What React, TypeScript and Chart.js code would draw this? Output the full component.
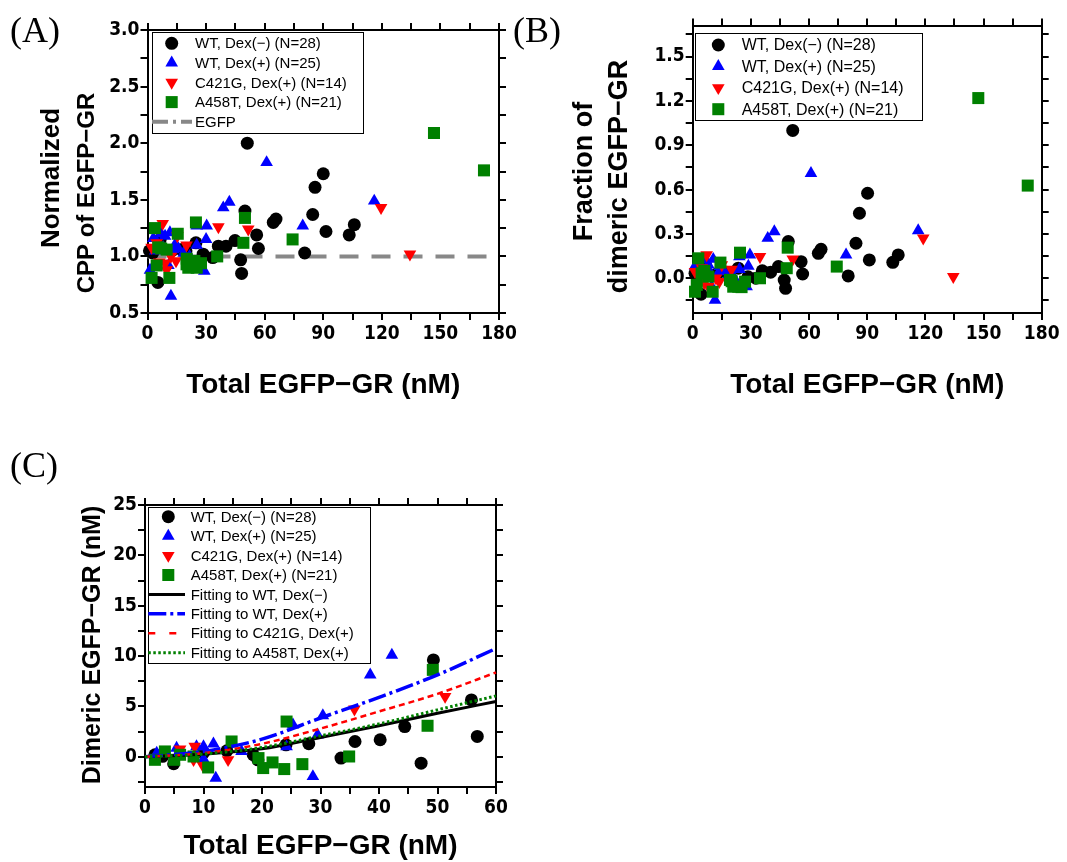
import React, { useEffect, useRef } from "react";
import { Chart, registerables } from "chart.js";

Chart.register(...registerables);

type Pt = [number, number];

// ---------------- Panel A : normalized CPP ----------------
const aWtDexMinus: Pt[] = [
  [51.1, 2.0], [90.0, 1.73], [85.8, 1.61], [84.6, 1.37], [49.9, 1.4], [65.8, 1.33], [64.4, 1.3],
  [105.9, 1.28], [103.3, 1.19], [91.4, 1.22], [55.9, 1.19], [56.8, 1.07], [80.5, 1.03], [47.7, 0.97],
  [48.2, 0.85], [44.8, 1.14], [40.2, 1.09], [36.3, 1.09], [33.4, 0.99], [24.8, 1.12], [19.7, 1.05],
  [5.3, 0.77], [2.7, 1.03], [1.0, 1.05], [6.5, 1.15], [12.5, 1.05], [17.5, 1.06], [28.5, 1.02],
];
const aWtDexPlus: Pt[] = [
  [61.0, 1.83], [116.1, 1.49], [41.9, 1.48], [38.8, 1.43], [79.5, 1.27], [30.3, 1.27], [30.0, 1.15],
  [25.2, 1.1], [25.2, 1.27], [29.1, 0.87], [12.0, 0.65], [15.8, 1.07], [13.2, 1.06], [9.0, 1.18],
  [11.5, 1.21], [3.0, 1.16], [10.7, 0.92], [1.3, 0.88], [5.0, 1.12], [7.0, 1.2], [18.5, 1.03],
  [21.5, 1.0], [4.0, 1.05], [14.0, 1.1], [8.0, 1.08],
];
const aC421G: Pt[] = [
  [119.6, 1.43], [134.4, 1.02], [51.6, 1.24], [36.3, 1.26], [7.8, 1.29], [15.3, 1.18], [14.6, 0.96],
  [9.0, 0.94], [2.1, 1.08], [9.8, 0.88], [4.7, 1.12], [12.0, 1.0], [6.0, 0.95], [20.0, 1.1],
];
const aA458T: Pt[] = [
  [146.7, 2.09], [172.3, 1.76], [74.3, 1.15], [49.9, 1.34], [49.1, 1.12], [24.8, 1.3], [15.5, 1.2],
  [35.7, 1.0], [20.1, 0.98], [20.9, 0.9], [25.2, 0.9], [27.4, 0.94], [3.8, 1.25], [5.5, 1.08],
  [9.8, 1.06], [4.7, 0.92], [2.1, 0.81], [11.2, 0.81], [20.0, 0.93], [24.0, 0.96], [7.0, 1.07],
];
const egfpLevel: Pt[] = [[0, 1.0], [180, 1.0]];

// ---------------- Panel B : fraction of dimeric ----------------
const bWtDexMinus: Pt[] = [
  [51.6, 1.0], [90.2, 0.575], [86.0, 0.44], [84.2, 0.237], [49.3, 0.248], [66.2, 0.196], [64.8, 0.169],
  [106.0, 0.158], [103.2, 0.108], [91.1, 0.124], [55.9, 0.112], [56.7, 0.029], [80.2, 0.016],
  [47.2, -0.012], [47.9, -0.068], [44.2, 0.079], [40.2, 0.041], [35.9, 0.051], [32.6, 0.0],
  [23.5, 0.068], [18.4, 0.022], [4.3, -0.108], [1.2, 0.034], [6.5, 0.1], [12.5, 0.03], [17.5, 0.04],
  [28.5, 0.01], [2.7, 0.02],
];
const bWtDexPlus: Pt[] = [
  [61.0, 0.71], [116.3, 0.322], [42.1, 0.316], [38.7, 0.271], [79.1, 0.158], [29.5, 0.158],
  [28.7, 0.083], [24.1, 0.061], [24.1, 0.146], [27.8, -0.057], [11.5, -0.147], [13.7, 0.045],
  [15.8, 0.056], [10.6, 0.129], [8.1, 0.09], [1.2, 0.083], [9.8, -0.057], [6.5, 0.124], [5.0, 0.07],
  [3.0, 0.1], [18.5, 0.02], [21.5, 0.0], [4.0, 0.05], [14.0, 0.08], [8.0, 0.06],
];
const bC421G: Pt[] = [
  [118.9, 0.271], [134.4, 0.011], [51.6, 0.129], [34.7, 0.146], [7.2, 0.158], [15.0, 0.09],
  [13.7, -0.023], [8.1, -0.057], [1.2, 0.045], [9.8, -0.08], [4.7, 0.07], [12.0, 0.0], [6.0, -0.03],
  [20.0, 0.06],
];
const bA458T: Pt[] = [
  [147.3, 1.219], [172.8, 0.627], [74.3, 0.079], [49.0, 0.207], [48.5, 0.068], [24.4, 0.173],
  [14.3, 0.106], [34.7, 0.0], [19.2, -0.011], [20.9, -0.057], [27.0, -0.023], [23.5, -0.057],
  [2.9, 0.135], [4.6, 0.034], [8.1, 0.011], [2.1, -0.045], [1.2, -0.091], [10.3, -0.091],
  [25.2, -0.06], [20.1, -0.02], [6.0, 0.05],
];

// ---------------- Panel C : dimeric concentration ----------------
const cWtDexMinus: Pt[] = [
  [49.3, 9.62], [55.8, 5.65], [56.8, 2.02], [47.2, -0.63], [44.4, 3.0], [40.2, 1.69], [35.9, 1.52],
  [33.5, -0.13], [24.1, 1.19], [18.5, 0.2], [19.3, -0.3], [4.9, -0.69], [1.7, 0.2], [10.0, 0.4],
  [14.0, 0.6], [28.0, 1.3], [3.0, 0.05],
];
const cWtDexPlus: Pt[] = [
  [42.2, 10.1], [38.5, 8.13], [30.4, 4.1], [25.3, 3.17], [29.5, 2.18], [28.7, -1.95], [12.1, -2.11],
  [11.7, 1.29], [10.0, 1.02], [8.8, 1.02], [10.0, -0.23], [2.0, 0.37], [16.5, 0.53], [24.2, 1.0],
  [5.4, 0.86],
];
const cC421G: Pt[] = [
  [51.3, 5.98], [35.8, 4.73], [14.2, -0.3], [9.9, -0.89], [8.5, 1.02], [8.3, -0.3], [6.0, 0.76],
];
const cA458T: Pt[] = [
  [49.2, 8.63], [48.3, 3.08], [24.2, 3.5], [34.9, 0.03], [14.8, 1.52], [10.8, -1.06], [19.4, -0.13],
  [20.2, -1.12], [21.8, -0.56], [23.8, -1.22], [26.9, -0.73], [6.0, 0.2], [3.4, 0.53], [1.7, -0.3],
  [8.3, 0.03], [5.0, -0.3],
];
const fitX = [0, 10, 20, 30, 40, 50, 60];
const fitWtDexMinus = [0, 0.27, 0.79, 1.92, 3.08, 4.33, 5.49];
const fitWtDexPlus = [0, 0.53, 1.75, 3.85, 5.9, 8.13, 10.75];
const fitC421G = [0, 0.36, 1.29, 2.8, 4.5, 6.25, 8.37];
const fitA458T = [0, 0.27, 0.93, 2.08, 3.27, 4.66, 6.05];

// ---------------- labels ----------------
const labelWtMinus = "WT, Dex(\u2212) (N=28)";
const labelWtPlus = "WT, Dex(+) (N=25)";
const labelC421G = "C421G, Dex(+) (N=14)";
const labelA458T = "A458T, Dex(+) (N=21)";
const xTitleText = "Total EGFP\u2212GR (nM)";

const SANS = "'Liberation Sans', Arial, Helvetica, sans-serif";
const COND = "'DejaVu Sans Condensed', 'Liberation Sans', Arial, sans-serif";
const TICK_FONT = { family: COND, size: 19, weight: "bold" as const };
const TITLE_FONT = { family: SANS, size: 28, weight: "bold" as const, lineHeight: 1 };

const BLACK = "#000000";
const BLUE = "#0000ff";
const RED = "#ff0000";
const GREEN = "#008000";

const toXY = (arr: Pt[]) => arr.map(([x, y]) => ({ x, y }));
const zip = (xs: number[], ys: number[]) => xs.map((x, i) => ({ x, y: ys[i] }));

function markers(label: string, data: Pt[], kind: string, color: string, order: number) {
  const base: any = {
    type: "scatter",
    label,
    data: toXY(data),
    pointBackgroundColor: color,
    pointBorderColor: color,
    pointBorderWidth: 0,
    backgroundColor: color,
    borderColor: color,
    showLine: false,
    order,
    clip: false,
    kind,
  };
  if (kind === "circle") return { ...base, pointStyle: "circle", pointRadius: 6.5, pointRotation: 0 };
  if (kind === "up") return { ...base, pointStyle: "triangle", pointRadius: 7.3, pointRotation: 0 };
  if (kind === "down") return { ...base, pointStyle: "triangle", pointRadius: 7.3, pointRotation: 180 };
  return { ...base, pointStyle: "rect", pointRadius: 8.5, pointRotation: 0 };
}

function curve(label: string, data: { x: number; y: number }[], color: string, width: number, dash: number[], order: number, legendDash?: number[]) {
  return {
    type: "line",
    label,
    data,
    borderColor: color,
    backgroundColor: color,
    borderWidth: width,
    borderDash: dash,
    pointRadius: 0,
    fill: false,
    showLine: true,
    cubicInterpolationMode: "monotone",
    order,
    clip: false,
    kind: "line",
    legendDash: legendDash || dash,
  };
}

type LegendCfg = {
  x: number; y: number; w: number; h: number; rowY: number; rowH: number;
  symX: number; textX: number; lineX0: number; lineX1: number; font: string;
};

function drawMarker(ctx: CanvasRenderingContext2D, kind: string, cx: number, cy: number, r: number, color: string) {
  ctx.fillStyle = color;
  ctx.beginPath();
  if (kind === "circle") {
    ctx.arc(cx, cy, r, 0, Math.PI * 2);
  } else if (kind === "up" || kind === "down") {
    const s = kind === "up" ? 1 : -1;
    for (let k = 0; k < 3; k++) {
      const a = (k * 2 * Math.PI) / 3;
      const px = cx + Math.sin(a) * r;
      const py = cy - s * Math.cos(a) * r;
      if (k === 0) ctx.moveTo(px, py);
      else ctx.lineTo(px, py);
    }
    ctx.closePath();
  } else {
    const h = r * Math.SQRT1_2;
    ctx.rect(cx - h, cy - h, 2 * h, 2 * h);
  }
  ctx.fill();
}

function legendPlugin(cfg: LegendCfg) {
  return {
    id: "boxLegend",
    afterDraw(chart: any) {
      const ctx: CanvasRenderingContext2D = chart.ctx;
      ctx.save();
      ctx.fillStyle = "#ffffff";
      ctx.fillRect(cfg.x, cfg.y, cfg.w, cfg.h);
      ctx.strokeStyle = "#000000";
      ctx.lineWidth = 1;
      ctx.strokeRect(Math.round(cfg.x) + 0.5, Math.round(cfg.y) + 0.5, Math.round(cfg.w), Math.round(cfg.h));
      const list = chart.data.datasets.filter((d: any) => d.inLegend);
      list.forEach((ds: any, i: number) => {
        const cy = cfg.rowY + i * cfg.rowH;
        if (ds.kind === "line") {
          ctx.save();
          ctx.strokeStyle = ds.borderColor;
          ctx.lineWidth = ds.borderWidth;
          ctx.setLineDash(ds.legendDash || []);
          ctx.beginPath();
          ctx.moveTo(cfg.lineX0, cy);
          ctx.lineTo(cfg.lineX1, cy);
          ctx.stroke();
          ctx.restore();
        } else {
          drawMarker(ctx, ds.kind, cfg.symX, cy, ds.pointRadius, ds.pointBackgroundColor);
        }
        ctx.fillStyle = "#000000";
        ctx.font = cfg.font;
        ctx.textAlign = "left";
        ctx.textBaseline = "middle";
        ctx.fillText(ds.label, cfg.textX, cy + 1);
      });
      ctx.restore();
    },
  };
}

type TextItem = { text: string; x: number; y: number; size: number };

function textPlugin(items: TextItem[]) {
  return {
    id: "sideTitles",
    afterDraw(chart: any) {
      const ctx: CanvasRenderingContext2D = chart.ctx;
      items.forEach((t) => {
        ctx.save();
        ctx.translate(t.x, t.y);
        ctx.rotate(-Math.PI / 2);
        ctx.font = `bold ${t.size}px ${SANS}`;
        ctx.fillStyle = "#000000";
        ctx.textAlign = "center";
        ctx.textBaseline = "middle";
        ctx.fillText(t.text, 0, 0);
        ctx.restore();
      });
    },
  };
}

type AxisSpec = { min: number; max: number; step: number; labelStep: number; decimals: number };

type PanelSpec = {
  width: number;
  height: number;
  leftW: number;
  rightW: number;
  topH: number;
  bottomH: number;
  x: AxisSpec;
  y: AxisSpec;
  xTitlePad: number;
  datasets: any[];
  legend: LegendCfg;
  texts: TextItem[];
};

const isMultiple = (v: number, s: number) => Math.abs(v / s - Math.round(v / s)) < 1e-6;
const fmt = (v: number, d: number) => (Math.abs(v) < 1e-9 ? (0).toFixed(d) : v.toFixed(d));

function frameAxis(a: AxisSpec) {
  return {
    type: "linear",
    min: a.min,
    max: a.max,
    grid: { display: true, drawOnChartArea: false, drawTicks: true, tickLength: 7, color: "#000", lineWidth: 2 },
    border: { display: true, color: "#000", width: 2 },
  };
}

function makeConfig(spec: PanelSpec): any {
  const labelTicks = (a: AxisSpec, padding: number) => ({
    stepSize: a.step,
    autoSkip: false,
    includeBounds: false,
    maxRotation: 0,
    minRotation: 0,
    padding,
    color: "#000",
    font: TICK_FONT,
    callback: (v: any) => (isMultiple(Number(v), a.labelStep) ? fmt(Number(v), a.decimals) : ""),
  });
  return {
    type: "scatter",
    data: { datasets: spec.datasets },
    plugins: [legendPlugin(spec.legend), textPlugin(spec.texts)],
    options: {
      responsive: false,
      maintainAspectRatio: false,
      animation: false,
      devicePixelRatio: 1,
      events: [],
      layout: { padding: 0 },
      plugins: { legend: { display: false }, tooltip: { enabled: false }, title: { display: false } },
      scales: {
        x: {
          ...frameAxis(spec.x),
          position: "bottom",
          ticks: labelTicks(spec.x, 3),
          title: {
            display: true,
            text: xTitleText,
            color: "#000",
            font: TITLE_FONT,
            padding: { top: 0, bottom: spec.xTitlePad },
          },
          afterFit: (s: any) => {
            s.height = spec.bottomH;
          },
        },
        x2: {
          ...frameAxis(spec.x),
          position: "top",
          ticks: { stepSize: spec.x.step, includeBounds: false, display: false },
          afterFit: (s: any) => {
            s.height = spec.topH;
          },
        },
        y: {
          ...frameAxis(spec.y),
          position: "left",
          ticks: labelTicks(spec.y, 1),
          afterFit: (s: any) => {
            s.width = spec.leftW;
          },
        },
        y2: {
          ...frameAxis(spec.y),
          position: "right",
          ticks: { stepSize: spec.y.step, includeBounds: false, display: false },
          afterFit: (s: any) => {
            s.width = spec.rightW;
          },
        },
      },
    },
  };
}

const legendSets = (sets: any[]) => sets.map((d) => ({ ...d, inLegend: true }));

const panelA: PanelSpec = {
  width: 520,
  height: 400,
  leftW: 147.5,
  rightW: 21,
  topH: 30,
  bottomH: 87,
  x: { min: 0, max: 180, step: 15, labelStep: 30, decimals: 0 },
  y: { min: 0.5, max: 3.0, step: 0.25, labelStep: 0.5, decimals: 1 },
  xTitlePad: 1,
  datasets: legendSets([
    markers(labelWtMinus, aWtDexMinus, "circle", BLACK, 4),
    markers(labelWtPlus, aWtDexPlus, "up", BLUE, 3),
    markers(labelC421G, aC421G, "down", RED, 2),
    markers(labelA458T, aA458T, "square", GREEN, 1),
    curve("EGFP", toXY(egfpLevel), "#888888", 4, [19, 13], 5, [16, 5, 3, 5]),
  ]),
  legend: { x: 151.7, y: 31.7, w: 211, h: 101, rowY: 43.3, rowH: 19.6, symX: 171.7, textX: 195, lineX0: 152, lineX1: 192, font: `15px ${SANS}` },
  texts: [
    { text: "Normalized", x: 51.5, y: 178, size: 26 },
    { text: "CPP of EGFP\u2212GR", x: 87.5, y: 193, size: 24 },
  ],
};

const panelB: PanelSpec = {
  width: 537,
  height: 400,
  leftW: 162.7,
  rightW: 25.3,
  topH: 25.5,
  bottomH: 87,
  x: { min: 0, max: 180, step: 15, labelStep: 30, decimals: 0 },
  y: { min: -0.235, max: 1.71, step: 0.15, labelStep: 0.3, decimals: 1 },
  xTitlePad: 1,
  datasets: legendSets([
    markers(labelWtMinus, bWtDexMinus, "circle", BLACK, 4),
    markers(labelWtPlus, bWtDexPlus, "up", BLUE, 3),
    markers(labelC421G, bC421G, "down", RED, 2),
    markers(labelA458T, bA458T, "square", GREEN, 1),
  ]),
  legend: { x: 165, y: 32.7, w: 226.7, h: 86.6, rowY: 45, rowH: 21.4, symX: 188.3, textX: 211.7, lineX0: 165, lineX1: 200, font: `16px ${SANS}` },
  texts: [
    { text: "Fraction of", x: 54.5, y: 171.5, size: 27 },
    { text: "dimeric EGFP\u2212GR", x: 89.5, y: 176.5, size: 27 },
  ],
};

const panelC: PanelSpec = {
  width: 520,
  height: 432,
  leftW: 145,
  rightW: 24,
  topH: 75,
  bottomH: 75,
  x: { min: 0, max: 60, step: 5, labelStep: 10, decimals: 0 },
  y: { min: -3, max: 25, step: 2.5, labelStep: 5, decimals: 0 },
  xTitlePad: 2,
  datasets: legendSets([
    markers(labelWtMinus, cWtDexMinus, "circle", BLACK, 4),
    markers(labelWtPlus, cWtDexPlus, "up", BLUE, 3),
    markers(labelC421G, cC421G, "down", RED, 2),
    markers(labelA458T, cA458T, "square", GREEN, 1),
    curve("Fitting to WT, Dex(\u2212)", zip(fitX, fitWtDexMinus), BLACK, 3, [], 0),
    curve("Fitting to WT, Dex(+)", zip(fitX, fitWtDexPlus), BLUE, 3.5, [18, 4, 3, 4], -1),
    curve("Fitting to C421G, Dex(+)", zip(fitX, fitC421G), RED, 2.5, [6, 4], -2, [7, 14]),
    curve("Fitting to A458T, Dex(+)", zip(fitX, fitA458T), GREEN, 3, [2.5, 2.5], -3),
  ]),
  legend: { x: 148.3, y: 76.7, w: 221.7, h: 156, rowY: 86.7, rowH: 19.43, symX: 168.3, textX: 190.7, lineX0: 148.3, lineX1: 185, font: `15px ${SANS}` },
  texts: [{ text: "Dimeric EGFP\u2212GR (nM)", x: 93, y: 215, size: 25 }],
};

function Panel({ spec, left, top }: { spec: PanelSpec; left: number; top: number }) {
  const ref = useRef<HTMLCanvasElement | null>(null);
  useEffect(() => {
    if (!ref.current) return;
    const chart = new Chart(ref.current, makeConfig(spec));
    return () => chart.destroy();
  }, [spec]);
  return (
    <canvas
      ref={ref}
      width={spec.width}
      height={spec.height}
      style={{ position: "absolute", left, top, width: spec.width, height: spec.height }}
    />
  );
}

const letterStyle: React.CSSProperties = {
  position: "absolute",
  fontFamily: "'Liberation Serif', 'Times New Roman', serif",
  fontSize: 36,
  lineHeight: "36px",
  color: "#000",
  whiteSpace: "nowrap",
};

export default function App() {
  return (
    <div style={{ position: "absolute", left: 0, top: 0, width: 1067, height: 862, background: "#fff", overflow: "hidden" }}>
      <Panel spec={panelA} left={0} top={0} />
      <Panel spec={panelB} left={530} top={0} />
      <Panel spec={panelC} left={0} top={430} />
      <div style={{ ...letterStyle, left: 10, top: 12 }}>(A)</div>
      <div style={{ ...letterStyle, left: 513, top: 12 }}>(B)</div>
      <div style={{ ...letterStyle, left: 10, top: 447 }}>(C)</div>
    </div>
  );
}
